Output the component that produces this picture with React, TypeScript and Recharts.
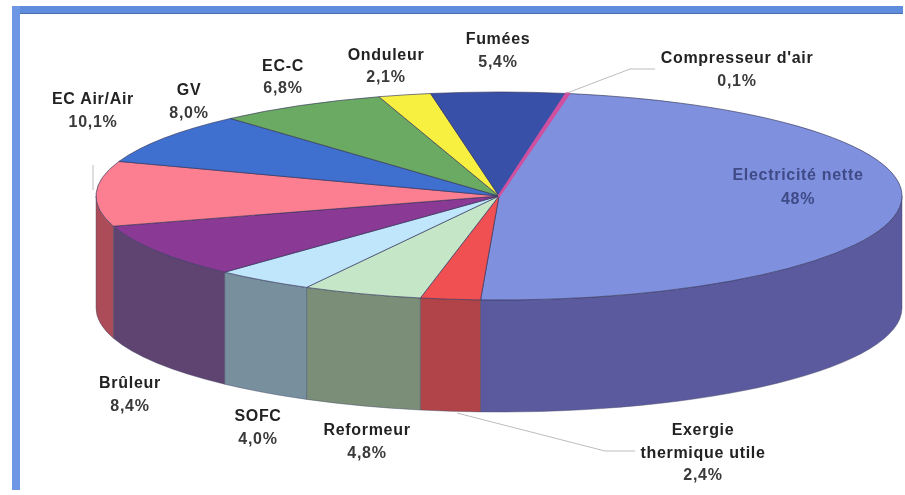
import React from 'react';
import { PieChart, Pie } from 'recharts';

const categories = ['Electricité nette', 'Exergie thermique utile', 'Reformeur', 'SOFC', 'Brûleur', 'EC Air/Air', 'GV', 'EC-C', 'Onduleur', 'Fumées', "Compresseur d'air"];
const values = [48, 2.4, 4.8, 4.0, 8.4, 10.1, 8.0, 6.8, 2.1, 5.4, 0.1];
const valueLabels = ['48%', '2,4%', '4,8%', '4,0%', '8,4%', '10,1%', '8,0%', '6,8%', '2,1%', '5,4%', '0,1%'];
const topColors = ['#7f90de', '#f05052', '#c6e6c8', '#bfe6fa', '#8a3a94', '#fb7f90', '#3f70cf', '#6aaa62', '#f8f040', '#3850a8', '#d050a0'];
const wallColors = ['#5c5a9e', '#b04448', '#7a8e78', '#788f9e', '#5f4472', '#ac4c58', '#3f70cf', '#6aaa62', '#f8f040', '#3850a8', '#d050a0'];

const tableData = categories.map((name, i) => ({ name, value: values[i], top: topColors[i], wall: wallColors[i], share: valueLabels[i] }));

const ASPECT = 104 / 403;
const DEPTH = 112;

const labelLayout: Record<string, { x: number; y: number; lines: string[]; dy?: number; color?: string }> = {
  'Electricité nette': { x: 798, y: 180, lines: ['Electricité nette'], dy: 24, color: '#3f4a86' },
  'Exergie thermique utile': { x: 703, y: 435, lines: ['Exergie', 'thermique utile'], dy: 22.5 },
  Reformeur: { x: 367, y: 435, lines: ['Reformeur'], dy: 23 },
  SOFC: { x: 258, y: 421, lines: ['SOFC'], dy: 22.5 },
  'Brûleur': { x: 130, y: 388, lines: ['Brûleur'], dy: 23 },
  'EC Air/Air': { x: 93, y: 104, lines: ['EC Air/Air'], dy: 23 },
  GV: { x: 189, y: 95, lines: ['GV'], dy: 23 },
  'EC-C': { x: 283, y: 71, lines: ['EC-C'], dy: 22 },
  Onduleur: { x: 386, y: 60, lines: ['Onduleur'], dy: 22 },
  'Fumées': { x: 498, y: 44, lines: ['Fumées'], dy: 23 },
  "Compresseur d'air": { x: 737, y: 63, lines: ["Compresseur d'air"], dy: 23 },
};

const leaderLines: Record<string, string> = {
  "Compresseur d'air": '567,93 630,69 655,69',
  'Exergie thermique utile': '457,413 605,451 635,451',
  'EC Air/Air': '93,165 93,190',
};

function SliceShape(props: any) {
  const { cx, cy, outerRadius, startAngle, endAngle, payload } = props;
  const rx = outerRadius;
  const ry = outerRadius * ASPECT;
  const pt = (a: number, d = 0) => {
    const r = (a * Math.PI) / 180;
    return `${cx + rx * Math.cos(r)},${cy - ry * Math.sin(r) + d}`;
  };
  const large = Math.abs(startAngle - endAngle) > 180 ? 1 : 0;
  const top = `M${cx},${cy} L${pt(startAngle)} A${rx},${ry} 0 ${large} 1 ${pt(endAngle)} Z`;
  const s = Math.min(startAngle, 0);
  const e = Math.max(endAngle, -180);
  const row = payload?.payload ?? payload ?? props;
  const topFill = row.top ?? props.top;
  const wallFill = row.wall ?? props.wall;
  const thin = Math.abs(startAngle - endAngle) < 1;
  return (
    <g>
      {s > e && (
        <path
          d={`M${pt(s)} A${rx},${ry} 0 0 1 ${pt(e)} L${pt(e, DEPTH)} A${rx},${ry} 0 0 0 ${pt(s, DEPTH)} Z`}
          fill={wallFill}
          stroke="#454a66"
          strokeOpacity={0.55}
          strokeWidth={0.8}
        />
      )}
      <path
        d={top}
        fill={topFill}
        stroke={thin ? topFill : '#33335a'}
        strokeOpacity={thin ? 1 : 0.65}
        strokeWidth={thin ? 2.5 : 1}
        strokeLinejoin="round"
      />
    </g>
  );
}

function SliceLabel(props: any) {
  const name = props.name ?? props.payload?.name;
  const share = props.share ?? props.payload?.share;
  const l = labelLayout[name];
  if (!l) return null;
  const dy = l.dy ?? 23;
  const leader = leaderLines[name];
  const textProps = {
    x: l.x,
    textAnchor: 'middle' as const,
    fontFamily: '"Liberation Sans", Arial, sans-serif',
    fontSize: 16,
    letterSpacing: 0.7,
    stroke: 'none',
    fontWeight: 600,
  };
  return (
    <g>
      {leader && <polyline points={leader} fill="none" stroke="#bcbcbc" strokeWidth={1} />}
      {l.lines.map((t, i) => (
        <text key={t} {...textProps} y={l.y + i * dy} fill={l.color ?? '#222'}>
          {t}
        </text>
      ))}
      <text {...textProps} y={l.y + l.lines.length * dy} fill={l.color ?? '#3a3a3a'}>
        {share}
      </text>
    </g>
  );
}

export default function App() {
  return (
    <div style={{ position: 'absolute', left: 0, top: 0, width: 905, height: 495, overflow: 'hidden', background: '#fff' }}>
      <div style={{ position: 'absolute', left: 12, top: 6, width: 891, height: 8, background: '#5f8cdc', borderBottom: '1px solid #4a6fae', boxSizing: 'border-box' }} />
      <div style={{ position: 'absolute', left: 12, top: 6, width: 8, height: 484, background: '#6d97e4' }} />
      <div style={{ position: 'absolute', left: 0, top: 0, filter: 'blur(0.5px)' }}>
        <PieChart width={905} height={495} margin={{ top: 0, right: 0, bottom: 0, left: 0 }} style={{ background: 'transparent' }}>
          <Pie
            data={tableData}
            dataKey="value"
            nameKey="name"
            cx={499}
            cy={196}
            innerRadius={0}
            outerRadius={403}
            startAngle={80}
            endAngle={-280}
            stroke="none"
            isAnimationActive={false}
            shape={SliceShape}
            label={SliceLabel}
            labelLine={false}
          />
        </PieChart>
      </div>
    </div>
  );
}
